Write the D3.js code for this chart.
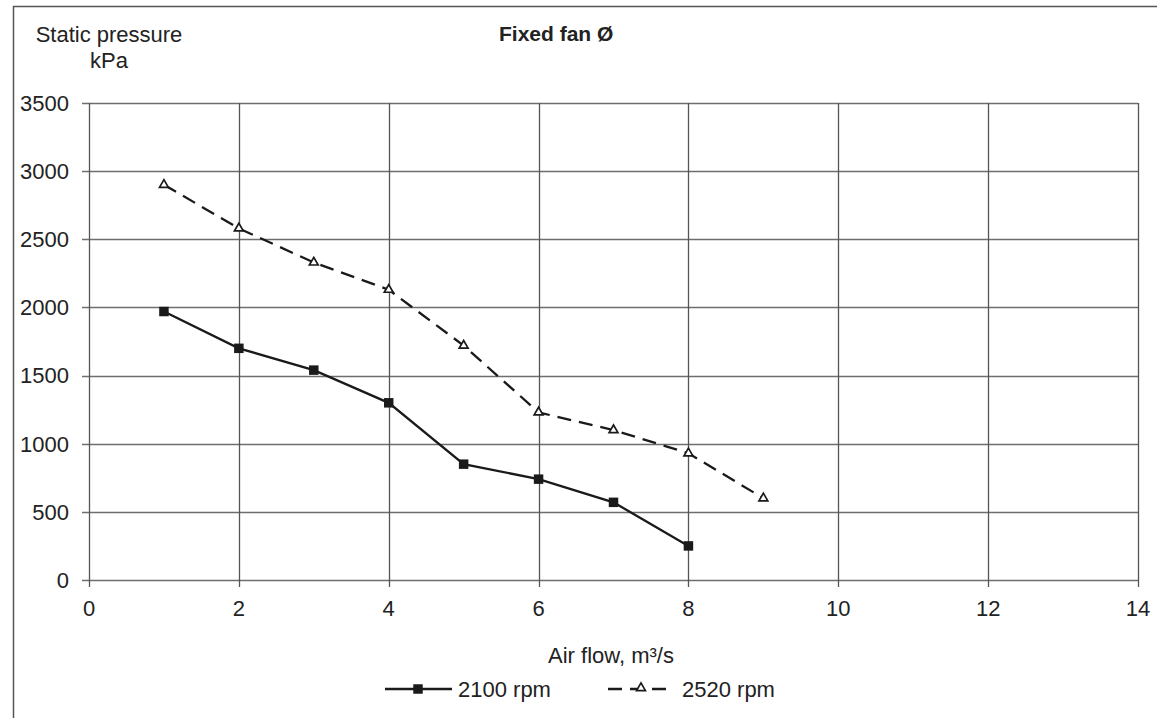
<!DOCTYPE html>
<html>
<head>
<meta charset="utf-8">
<script src="https://cdn.jsdelivr.net/npm/d3@7"></script>
<style>
  body { margin: 0; background: #fff; }
  svg { font-family: "Liberation Sans", Arial, sans-serif; }
</style>
</head>
<body>
<svg id="chart" width="1157" height="718"></svg>
<script>
// chart data
var airFlow1 = [1, 2, 3, 4, 5, 6, 7, 8];
var rpm2100 = [1970, 1700, 1540, 1300, 850, 740, 570, 250];
var airFlow2 = [1, 2, 3, 4, 5, 6, 7, 8, 9];
var rpm2520 = [2900, 2580, 2330, 2130, 1720, 1230, 1100, 930, 600];
var xTicks = [0, 2, 4, 6, 8, 10, 12, 14];
var yTicks = [0, 500, 1000, 1500, 2000, 2500, 3000, 3500];
var seriesNames = ["2100 rpm", "2520 rpm"];

var svg = d3.select('#chart');
var margin = { left: 89, right: 1138, top: 103, bottom: 580 };
var fs = 22;

var x = d3.scaleLinear().domain([0, 14]).range([margin.left, margin.right]);
var y = d3.scaleLinear().domain([0, 3500]).range([margin.bottom, margin.top]);

// outer frame (left and top only)
svg.append('path')
  .attr('d', 'M13.5,718 L13.5,6.5 L1157,6.5')
  .attr('fill', 'none')
  .attr('stroke', '#555')
  .attr('stroke-width', 1.5);

// grid
svg.append('g').selectAll('line')
  .data(yTicks)
  .enter().append('line')
  .attr('x1', margin.left - 7).attr('x2', margin.right)
  .attr('y1', function (d) { return Math.round(y(d)) + 0.5; })
  .attr('y2', function (d) { return Math.round(y(d)) + 0.5; })
  .attr('stroke', '#6e6e6e').attr('stroke-width', 1.3);

svg.append('g').selectAll('line')
  .data(xTicks)
  .enter().append('line')
  .attr('y1', margin.top).attr('y2', margin.bottom + 7)
  .attr('x1', function (d) { return Math.round(x(d)) + 0.5; })
  .attr('x2', function (d) { return Math.round(x(d)) + 0.5; })
  .attr('stroke', '#555').attr('stroke-width', 1.3);

// tick labels
svg.append('g').selectAll('text')
  .data(yTicks)
  .enter().append('text')
  .attr('x', 69)
  .attr('y', function (d) { return y(d); })
  .attr('dy', '0.36em')
  .attr('text-anchor', 'end')
  .attr('font-size', fs)
  .attr('fill', '#222')
  .text(function (d) { return d; });

svg.append('g').selectAll('text')
  .data(xTicks)
  .enter().append('text')
  .attr('x', function (d) { return x(d); })
  .attr('y', 616)
  .attr('text-anchor', 'middle')
  .attr('font-size', fs)
  .attr('fill', '#222')
  .text(function (d) { return d; });

// titles
svg.append('text').attr('x', 499).attr('y', 41)
  .attr('font-size', 21).attr('font-weight', 'bold')
  .attr('fill', '#222').text('Fixed fan Ø');

svg.append('text').attr('x', 109).attr('y', 42)
  .attr('text-anchor', 'middle').attr('font-size', fs).attr('fill', '#222')
  .text('Static pressure');
svg.append('text').attr('x', 109).attr('y', 68)
  .attr('text-anchor', 'middle').attr('font-size', fs).attr('fill', '#222')
  .text('kPa');

svg.append('text').attr('x', 611).attr('y', 663)
  .attr('text-anchor', 'middle').attr('font-size', fs).attr('fill', '#222')
  .text('Air flow, m³/s');

// lines
var line = d3.line()
  .x(function (d) { return x(d[0]); })
  .y(function (d) { return y(d[1]); });

var data1 = d3.zip(airFlow1, rpm2100);
var data2 = d3.zip(airFlow2, rpm2520);

svg.append('path')
  .datum(data2)
  .attr('d', line)
  .attr('fill', 'none')
  .attr('stroke', '#1a1a1a')
  .attr('stroke-width', 2.3)
  .attr('stroke-dasharray', '14,8');

svg.append('path')
  .datum(data1)
  .attr('d', line)
  .attr('fill', 'none')
  .attr('stroke', '#1a1a1a')
  .attr('stroke-width', 2.3);

var square = d3.symbol().type(d3.symbolSquare).size(90);
var tri = d3.symbol().type(d3.symbolTriangle).size(34);

svg.append('g').selectAll('path')
  .data(data1)
  .enter().append('path')
  .attr('d', square)
  .attr('transform', function (d) { return 'translate(' + x(d[0]) + ',' + y(d[1]) + ')'; })
  .attr('fill', '#1a1a1a');

svg.append('g').selectAll('path')
  .data(data2)
  .enter().append('path')
  .attr('d', tri)
  .attr('transform', function (d) { return 'translate(' + x(d[0]) + ',' + y(d[1]) + ')'; })
  .attr('fill', '#fff')
  .attr('stroke', '#1a1a1a')
  .attr('stroke-width', 1.7);

// legend
var legY = 689;
var leg1 = svg.append('g');
leg1.append('line').attr('x1', 385).attr('x2', 452).attr('y1', legY).attr('y2', legY)
  .attr('stroke', '#1a1a1a').attr('stroke-width', 2.3);
leg1.append('path').attr('d', square).attr('transform', 'translate(418,' + legY + ')')
  .attr('fill', '#1a1a1a');
leg1.append('text').attr('x', 458).attr('y', legY).attr('dy', '0.36em')
  .attr('font-size', fs).attr('fill', '#222').text(seriesNames[0]);

var leg2 = svg.append('g');
leg2.append('line').attr('x1', 608).attr('x2', 674).attr('y1', legY).attr('y2', legY)
  .attr('stroke', '#1a1a1a').attr('stroke-width', 2.3).attr('stroke-dasharray', '14,8');
leg2.append('path').attr('d', tri).attr('transform', 'translate(641,' + (legY - 1) + ')')
  .attr('fill', '#fff').attr('stroke', '#1a1a1a').attr('stroke-width', 1.7);
leg2.append('text').attr('x', 682).attr('y', legY).attr('dy', '0.36em')
  .attr('font-size', fs).attr('fill', '#222').text(seriesNames[1]);
</script>
</body>
</html>
